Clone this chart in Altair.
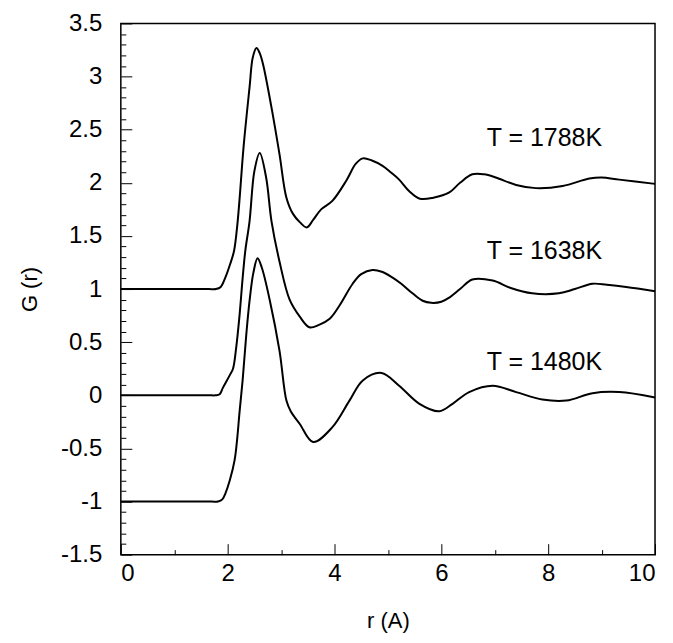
import altair as alt
import pandas as pd

# ---- data ----
r_1788 = [0, 0.6, 1.2, 1.65, 1.78, 1.87, 1.95, 2.05, 2.12, 2.18, 2.22, 2.3, 2.41, 2.47, 2.54, 2.6, 2.66, 2.82, 2.97, 3.1, 3.22,
          3.35, 3.48, 3.6, 3.75, 3.96, 4.22, 4.4, 4.53, 4.7, 4.9, 5.05, 5.21, 5.4, 5.6, 5.85, 6.15, 6.35,
          6.58, 6.8, 7.02, 7.4, 7.77, 8.27, 8.77, 9.0, 9.33, 10]
g_1788 = [1.0, 1.0, 1.0, 1.0, 1.0, 1.02, 1.1, 1.24, 1.36, 1.6, 1.83, 2.35, 2.9, 3.18, 3.27, 3.22, 3.12, 2.71, 2.27, 1.86, 1.71,
          1.63, 1.58, 1.65, 1.75, 1.83, 2.02, 2.18, 2.23, 2.21, 2.16, 2.1, 2.03, 1.92, 1.85, 1.86, 1.91, 2.0,
          2.08, 2.08, 2.05, 1.98, 1.95, 1.97, 2.04, 2.05, 2.03, 1.99]

r_1638 = [0, 0.6, 1.2, 1.65, 1.77, 1.85, 1.91, 2.04, 2.1, 2.16, 2.22, 2.28, 2.33, 2.41, 2.5, 2.6, 2.72, 2.82, 2.97, 3.16, 3.35,
          3.53, 3.7, 3.91, 4.1, 4.34, 4.5, 4.71, 4.9, 5.08, 5.25, 5.46, 5.65, 5.81, 6.0, 6.15, 6.35, 6.58,
          6.96, 7.3, 7.7, 8.2, 8.5, 8.83, 9.1, 9.46, 10]
g_1638 = [0.0, 0.0, 0.0, 0.0, 0.0, 0.01, 0.07, 0.19, 0.25, 0.45, 0.74, 1.1, 1.36, 1.64, 2.11, 2.28, 2.05, 1.64, 1.26, 0.9, 0.74,
          0.64, 0.66, 0.72, 0.85, 1.05, 1.14, 1.18, 1.16, 1.11, 1.05, 0.96, 0.89, 0.87, 0.88, 0.92, 1.0, 1.09,
          1.08, 1.01, 0.96, 0.96, 1.0, 1.05, 1.04, 1.02, 0.98]

r_1480 = [0, 0.6, 1.2, 1.7, 1.82, 1.9, 1.96, 2.04, 2.13, 2.18, 2.22, 2.28, 2.35, 2.41, 2.48, 2.56, 2.64, 2.79, 2.97, 3.1, 3.18,
          3.35, 3.6, 3.96, 4.28, 4.53, 4.88, 5.21, 5.59, 5.96, 6.21, 6.52, 6.96, 7.4, 7.89, 8.34, 8.83, 9.33, 10]
g_1480 = [-1.0, -1.0, -1.0, -1.0, -1.0, -0.98, -0.92, -0.8, -0.61, -0.4, -0.17, 0.14, 0.58, 0.89, 1.15, 1.29, 1.2, 0.89, 0.42, -0.05, -0.15,
          -0.27, -0.44, -0.3, -0.05, 0.14, 0.21, 0.09, -0.08, -0.15, -0.08, 0.03, 0.09, 0.03, -0.04, -0.05, 0.02, 0.03, -0.02]

labels = ["T = 1788K", "T = 1638K", "T = 1480K"]
label_r = [7.93, 7.93, 7.93]
label_g = [2.42, 1.36, 0.31]

x_major = [0, 2, 4, 6, 8, 10]
x_minor = [1, 3, 5, 7, 9]
y_major = [round(-1.5 + 0.5 * i, 1) for i in range(11)]
y_minor = [round(-1.5 + 0.1 * i, 1) for i in range(51) if i % 5 != 0]

rows = []
for name, rs, gs in [("1788", r_1788, g_1788), ("1638", r_1638, g_1638), ("1480", r_1480, g_1480)]:
    for r, g in zip(rs, gs):
        rows.append({"series": name, "r": r, "g": g})
df = pd.DataFrame(rows)
lab_df = pd.DataFrame({"text": labels, "r": label_r, "g": label_g})

FONT = "Liberation Sans"
x_scale = alt.Scale(domain=[0, 10], nice=False, zero=False)
y_scale = alt.Scale(domain=[-1.5, 3.5], nice=False, zero=False)

lines = alt.Chart(df).mark_line(color="black", strokeWidth=2, interpolate="catmull-rom").encode(
    x=alt.X("r:Q", scale=x_scale, axis=alt.Axis(
        title="r (A)", values=x_major, labelExpr="toString(datum.value)", orient="bottom",
        offset=-11, tickSize=11,
        domain=False, grid=False, labelFontSize=24, labelFont=FONT, labelColor="black",
        labelPadding=7, tickColor="black", tickWidth=1,
        titleFont=FONT, titleFontSize=22, titleFontWeight="normal", titleColor="black", titlePadding=25)),
    y=alt.Y("g:Q", scale=y_scale, axis=alt.Axis(
        title="G (r)", values=y_major, labelExpr="toString(datum.value)", orient="left",
        offset=-11, tickSize=11,
        domain=False, grid=False, labelFontSize=24, labelFont=FONT, labelColor="black",
        labelPadding=19, tickColor="black", tickWidth=1,
        titleFont=FONT, titleFontSize=22, titleFontWeight="normal", titleColor="black", titlePadding=19)),
    detail="series:N",
)

minor = alt.Chart(df).mark_line(opacity=0).encode(
    x=alt.X("r:Q", scale=x_scale, axis=alt.Axis(
        title="", values=x_minor, orient="bottom", offset=-5, tickSize=5, labels=False,
        domain=False, grid=False, tickColor="black", tickWidth=1)),
    y=alt.Y("g:Q", scale=y_scale, axis=alt.Axis(
        title="", values=y_minor, orient="left", offset=-5, tickSize=5, labels=False,
        domain=False, grid=False, tickColor="black", tickWidth=1)),
    detail="series:N",
)

texts = alt.Chart(lab_df).mark_text(font=FONT, fontSize=25, color="black", align="center", baseline="middle").encode(
    x=alt.X("r:Q", scale=x_scale, axis=None),
    y=alt.Y("g:Q", scale=y_scale, axis=None),
    text="text:N",
)

chart = alt.layer(minor, lines, texts).resolve_axis(x="independent", y="independent").properties(
    width=535, height=532,
    autosize=alt.AutoSizeParams(type="none"),
    padding={"left": 113, "top": 15, "right": 10, "bottom": 80},
).configure_view(stroke="black", strokeWidth=1.5)

chart.save("out.html", embed_options={"renderer": "svg", "actions": False})
